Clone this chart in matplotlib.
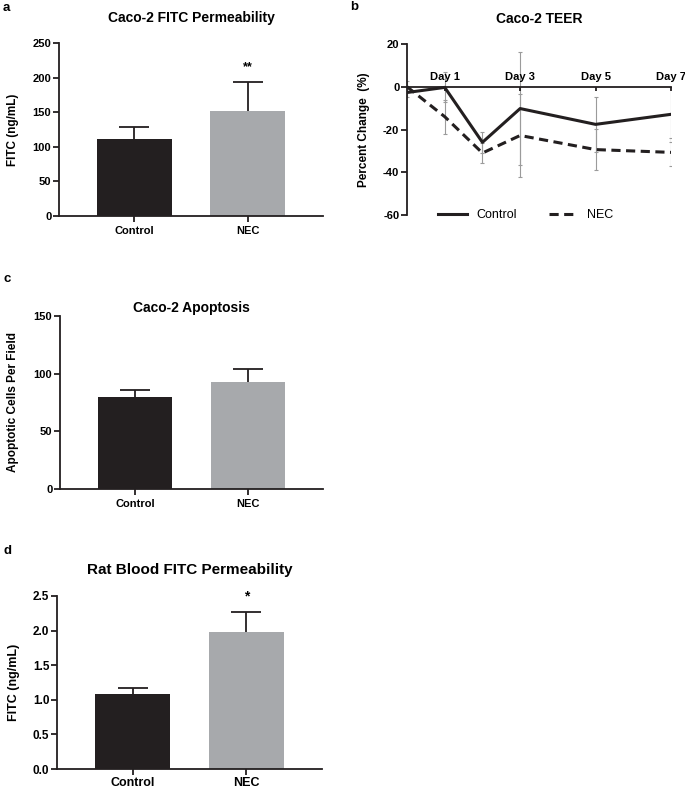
import matplotlib
matplotlib.use("Agg")
import matplotlib.pyplot as plt
import numpy as np

plt.rcParams["font.family"] = ["Liberation Sans", "DejaVu Sans"]
plt.rcParams["font.weight"] = "bold"
plt.rcParams["axes.unicode_minus"] = False

# ---- data ----
groups = ["Control", "NEC"]
caco_fitc = [111, 152]
caco_fitc_err = [17, 42]
caco_apop = [80, 93]
caco_apop_err = [6, 11]
rat_fitc = [1.08, 1.98]
rat_fitc_err = [0.09, 0.29]

teer_days = [0, 1, 2, 3, 5, 7]
teer_ticks = [1, 3, 5, 7]
teer_tick_labels = ["Day 1", "Day 3", "Day 5", "Day 7"]
teer_ctrl = [-2.7, -0.3, -26.0, -10.2, -17.6, -12.9]
teer_ctrl_err = [2.0, 7.0, 5.0, 26.4, 12.9, 12.9]
teer_nec = [0.0, -14.0, -31.0, -22.8, -29.4, -30.7]
teer_nec_err = [2.5, 8.0, 4.5, 19.6, 9.6, 6.6]

BLACK = "#231f20"
GREY = "#a7a9ac"
W, H = 685, 788


def px_axes(fig, x0, x1, ytop, ybot):
    return fig.add_axes([x0 / W, 1 - ybot / H, (x1 - x0) / W, (ybot - ytop) / H])


def style(ax, lw=1.3):
    for s in ("top", "right"):
        ax.spines[s].set_visible(False)
    for s in ("left", "bottom"):
        ax.spines[s].set_linewidth(lw)
        ax.spines[s].set_color(BLACK)


def bar_panel(ax, vals, errs, ylim, yticks, title, ylabel, stars=None,
              tick_fs=8, lab_fs=8.5, xt_fs=8, title_fs=10, title_pad=15, yfmt=None):
    style(ax)
    x = list(range(len(groups)))
    ax.bar(x, vals, width=0.66, color=[BLACK, GREY], zorder=2)
    # upper error only: drop the cap that sits on the bar top
    _, caps, _ = ax.errorbar(x, vals, yerr=[[0] * len(errs), errs], fmt="none",
                             ecolor=BLACK, elinewidth=1.3, capsize=11, capthick=1.3,
                             zorder=1)
    for c in caps:
        if np.allclose(c.get_ydata(), vals):
            c.remove()
    ax.set_xlim(-0.665, 1.665)
    ax.set_ylim(*ylim)
    ax.set_yticks(yticks)
    if yfmt:
        ax.set_yticklabels([yfmt.format(t) for t in yticks])
    ax.set_xticks(x, groups)
    ax.tick_params(axis="y", length=4, width=1.3, pad=1.5, labelsize=tick_fs, color=BLACK)
    ax.tick_params(axis="x", length=4, width=1.3, pad=3.5, labelsize=xt_fs, color=BLACK)
    ax.set_ylabel(ylabel, fontsize=lab_fs, fontweight="bold")
    ax.set_title(title, fontsize=title_fs, fontweight="bold", pad=title_pad)
    if stars:
        ax.annotate(stars, (1, vals[1] + errs[1]), xytext=(0, 6),
                    textcoords="offset points", ha="center", va="bottom",
                    fontsize=xt_fs + 1)


fig = plt.figure(figsize=(W / 100, H / 100), dpi=100)

# a
ax_a = px_axes(fig, 59, 323, 43, 216)
bar_panel(ax_a, caco_fitc, caco_fitc_err, (0, 250), [0, 50, 100, 150, 200, 250],
          "Caco-2 FITC Permeability", "FITC (ng/mL)", stars="**")
ax_a.yaxis.set_label_coords(-0.15, 0.5)

# b
ax_b = px_axes(fig, 407, 671, 44, 215)
style(ax_b)
ax_b.spines["bottom"].set_position(("data", 0))
ax_b.errorbar(teer_days, teer_ctrl, yerr=teer_ctrl_err, fmt="none", ecolor="#9b9b9b",
              elinewidth=0.8, capsize=1.6, capthick=0.8, zorder=1)
ax_b.errorbar(teer_days, teer_nec, yerr=teer_nec_err, fmt="none", ecolor="#9b9b9b",
              elinewidth=0.8, capsize=1.6, capthick=0.8, zorder=1)
ax_b.plot(teer_days, teer_ctrl, color=BLACK, lw=2.2, label="Control", zorder=3)
ax_b.plot(teer_days, teer_nec, color=BLACK, lw=2.2, dashes=(3, 1.8), label="NEC", zorder=3)
ax_b.set_xlim(0, 7)
ax_b.set_ylim(-60, 20)
ax_b.set_yticks([-60, -40, -20, 0, 20])
ax_b.set_xticks(teer_ticks, teer_tick_labels)
ax_b.tick_params(axis="y", length=4, width=1.3, pad=1.5, labelsize=8, color=BLACK)
ax_b.tick_params(axis="x", length=3, width=1.3, pad=-13.5, labelsize=8, color=BLACK)
ax_b.set_ylabel("Percent Change  (%)", fontsize=8.5, fontweight="bold")
ax_b.yaxis.set_label_coords(-0.14, 0.5)
ax_b.set_title("Caco-2 TEER", fontsize=10, fontweight="bold", pad=15)
ax_b.legend(loc="center", bbox_to_anchor=(0.45, 0.0), ncol=2, frameon=False,
            handlelength=2.3, columnspacing=2.5,
            prop={"weight": "normal", "size": 9})

# c
ax_c = px_axes(fig, 60, 323, 316, 489)
bar_panel(ax_c, caco_apop, caco_apop_err, (0, 150), [0, 50, 100, 150],
          "Caco-2 Apoptosis", "Apoptotic Cells Per Field", title_pad=3)
ax_c.yaxis.set_label_coords(-0.155, 0.5)

# d
ax_d = px_axes(fig, 57, 322, 596, 769)
bar_panel(ax_d, rat_fitc, rat_fitc_err, (0, 2.5), [0, 0.5, 1.0, 1.5, 2.0, 2.5],
          "Rat Blood FITC Permeability", "FITC (ng/mL)", stars="*",
          tick_fs=8.5, lab_fs=9, xt_fs=9, title_fs=11, title_pad=16, yfmt="{:.1f}")
ax_d.tick_params(axis="x", pad=1.5)
ax_d.yaxis.set_label_coords(-0.14, 0.5)

# panel letters
for lab, x, y in [("a", 3, 8), ("b", 350, 7), ("c", 3, 279), ("d", 3, 551)]:
    fig.text(x / W, 1 - y / H, lab, fontsize=9.5, fontweight="bold", va="center")

fig.savefig("out.png", dpi=100)
